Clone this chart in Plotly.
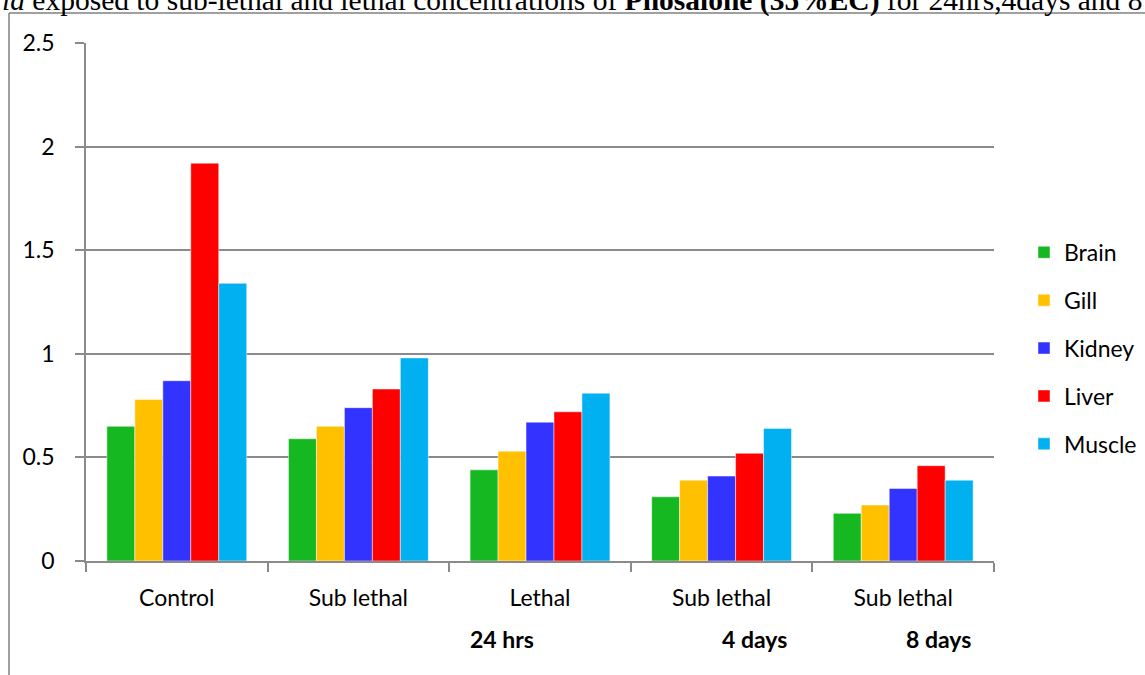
import plotly.graph_objects as go

# Treatment groups along the x axis
groups = ["Control", "Sub lethal", "Lethal", "Sub lethal", "Sub lethal"]
periods = ["24 hrs", "4 days", "8 days"]

# Tissue series
tissues = ["Brain", "Gill", "Kidney", "Liver", "Muscle"]
brain = [0.65, 0.59, 0.44, 0.31, 0.23]
gill = [0.78, 0.65, 0.53, 0.39, 0.27]
kidney = [0.87, 0.74, 0.67, 0.41, 0.35]
liver = [1.92, 0.83, 0.72, 0.52, 0.46]
muscle = [1.34, 0.98, 0.81, 0.64, 0.39]
series = [brain, gill, kidney, liver, muscle]

colors = ["#16B821", "#FFC000", "#3333FF", "#FF0000", "#00B0F0"]

W, H = 1145, 675
L, R, T, B = 86, 994, 43, 561.5


def px_x(p):
    return (p - L) / (R - L)


def px_y(p):
    return (B - p) / (B - T)


xpos = list(range(len(groups)))

fig = go.Figure()
for name, vals, col in zip(tissues, series, colors):
    fig.add_trace(go.Bar(
        x=xpos, y=vals, name=name, legendgroup=name,
        marker=dict(color=col, line=dict(color="rgba(255,255,255,0.6)", width=0.8)),
    ))

axis_font = dict(family="Lato, Carlito, sans-serif", size=23, color="#000000")
grey = "#8a8a8a"

fig.update_layout(
    width=W, height=H,
    margin=dict(l=L, r=W - R, t=T, b=H - B, autoexpand=False),
    paper_bgcolor="white", plot_bgcolor="white",
    barmode="group", bargap=0.23, bargroupgap=0,
    font=axis_font,
    showlegend=True,
    legend=dict(
        x=px_x(1024), xanchor="left",
        y=px_y(231), yanchor="top",
        font=axis_font, traceorder="grouped", tracegroupgap=15,
        bgcolor="rgba(0,0,0,0)",
    ),
    xaxis=dict(
        range=[-0.5, len(groups) - 0.5],
        tickvals=xpos, ticktext=groups,
        ticks="", showgrid=False, zeroline=False,
        showline=True, linecolor=grey, linewidth=1.5,
        ticklabelstandoff=16,
        minor=dict(
            tickvals=[i - 0.5 for i in range(len(groups) + 1)],
            ticks="outside", ticklen=9, tickcolor=grey, tickwidth=1.5,
            showgrid=False,
        ),
        tickfont=axis_font,
    ),
    yaxis=dict(
        range=[0, 2.5], tickvals=[0, 0.5, 1, 1.5, 2, 2.5],
        ticktext=["0", "0.5", "1", "1.5", "2", "2.5"],
        ticks="outside", ticklen=9, tickcolor=grey, tickwidth=1.5,
        showgrid=True, gridcolor=grey, gridwidth=1.5,
        zeroline=False, showline=True, linecolor=grey, linewidth=1.5,
        ticklabelstandoff=16,
        tickfont=axis_font,
    ),
)

# Period labels beneath the group names
for label, cx in zip(periods, [502, 754, 938]):
    fig.add_annotation(
        x=px_x(cx), y=px_y(640), xref="paper", yref="paper",
        text=f"<b>{label}</b>", showarrow=False,
        xanchor="center", yanchor="middle",
        font=dict(family="Lato, Carlito, sans-serif", size=23, color="#000000"),
    )

# Caption line running along the top edge
fig.add_annotation(
    x=px_x(0), y=px_y(19), xref="paper", yref="paper",
    text="<i>ia</i> exposed to sub-lethal and lethal concentrations of "
         "<b>Phosalone (35%EC)</b> for 24hrs,4days and 8 days",
    showarrow=False, xanchor="left", yanchor="bottom",
    font=dict(family="Liberation Serif, Times New Roman, serif", size=29.5, color="#000000"),
)

# Outer frame around the chart
fig.add_shape(type="line", xref="paper", yref="paper",
              x0=px_x(9), x1=px_x(9), y0=px_y(13), y1=px_y(H + 5),
              line=dict(color="#808080", width=1.5))
fig.add_shape(type="line", xref="paper", yref="paper",
              x0=px_x(9), x1=px_x(W + 5), y0=px_y(13), y1=px_y(13),
              line=dict(color="#808080", width=1.5))

fig.write_html("out.html")
